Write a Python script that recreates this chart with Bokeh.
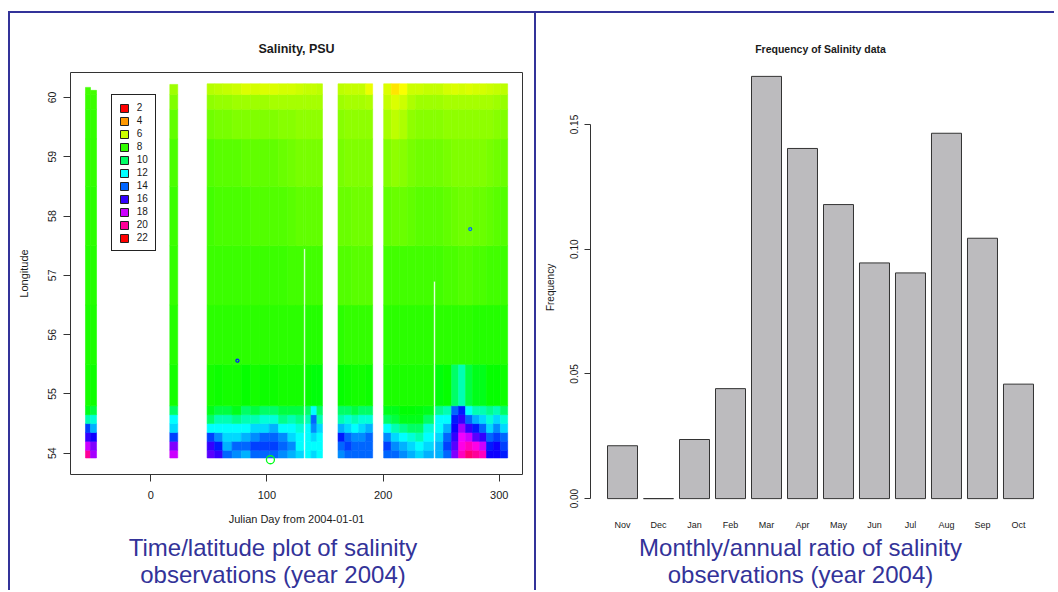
import colorsys
import numpy as np
from bokeh.plotting import figure
from bokeh.models import (ColumnDataSource, LinearColorMapper, Range1d, FixedTicker,
                          Legend, LegendItem, Label, NumeralTickFormatter, FactorRange)
from bokeh.transform import transform
from bokeh.layouts import row, column
from bokeh.embed import file_html
from bokeh.resources import INLINE

# ---------------- data: left panel (salinity, time / latitude) ----------------
lat_edges = [53.92, 54.05, 54.2, 54.35, 54.5, 54.65, 54.8, 55.5, 56.5, 57.5, 58.5, 59.3, 59.8, 60.05, 60.23]

col_day_start = [-56.2, -51.9, 16.4,
                 48.5, 55, 62, 70, 78, 86, 94, 102, 110, 118, 125, 131.7, 133.1, 138, 143,
                 161.2, 167, 173, 179, 185,
                 200.5, 207, 214, 221, 228, 235, 243.5,
                 245, 252, 259, 265, 271, 277, 283, 289, 295, 301]
col_day_end = [-51.9, -46.7, 23.2,
               55, 62, 70, 78, 86, 94, 102, 110, 118, 125, 131.7, 133.1, 138, 143, 147.8,
               167, 173, 179, 185, 191,
               207, 214, 221, 228, 235, 243.5, 245,
               252, 259, 265, 271, 277, 283, 289, 295, 301, 307.2]
col_lat_min = [53.92, 53.92, 53.92,
               53.92, 53.92, 53.92, 53.92, 53.92, 53.92, 53.92, 53.92, 53.92, 53.92, 53.92, 57.45, 53.92, 53.92, 53.92,
               53.92, 53.92, 53.92, 53.92, 53.92,
               53.92, 53.92, 53.92, 53.92, 53.92, 53.92, 56.9,
               53.92, 53.92, 53.92, 53.92, 53.92, 53.92, 53.92, 53.92, 53.92, 53.92]
col_lat_max = [60.17, 60.12, 60.22] + [60.23] * 37

# salinity (PSU) per column, latitude bands from south (first) to north (last)
sal_strip_a = [
    [20, 18, 16, 14.5, 11, 9, 8.4, 8.3, 8.2, 8.1, 8.0, 8.0, 7.9, 7.8],
    [17.5, 17, 15.5, 13, 11.5, 9.5, 8.5, 8.3, 8.2, 8.1, 8.0, 8.0, 7.9, 7.8],
]
sal_strip_b = [
    [18, 17, 14.5, 12.5, 12, 10, 8.4, 8.2, 8.0, 7.9, 7.7, 7.4, 7.0, 6.6],
]
sal_strip_c = [
    [16.5, 16, 14.5, 12, 10, 9, 8.4, 8.1, 7.9, 7.8, 7.6, 7.2, 6.8, 6.3],
    [16, 15, 13.5, 12, 11, 9.5, 8.5, 8.1, 7.9, 7.7, 7.5, 7.1, 6.7, 6.2],
    [14, 13, 12.5, 12, 11, 9.5, 8.4, 8.1, 7.9, 7.7, 7.5, 7.1, 6.7, 6.1],
    [13.5, 14, 12.5, 12, 10.5, 9, 8.4, 8.1, 7.9, 7.7, 7.5, 7.0, 6.6, 6.0],
    [13, 14, 13, 12, 11, 10, 8.6, 8.1, 7.9, 7.7, 7.4, 7.0, 6.6, 5.8],
    [14, 14.5, 13.5, 12.5, 11, 9.5, 8.4, 8.1, 7.9, 7.6, 7.4, 7.0, 6.6, 5.9],
    [14, 14.5, 14, 12.5, 11.5, 10, 8.5, 8.1, 7.9, 7.6, 7.4, 7.0, 6.6, 5.8],
    [14, 14.5, 14, 13, 11.5, 10, 8.5, 8.1, 7.9, 7.6, 7.4, 7.0, 6.5, 5.8],
    [13.5, 14, 13.5, 12, 10.5, 9.5, 8.4, 8.1, 7.9, 7.6, 7.3, 6.9, 6.5, 5.9],
    [13, 13.5, 12.5, 12, 11, 9.5, 8.4, 8.1, 7.8, 7.5, 7.2, 6.9, 6.5, 5.9],
    [12.5, 12, 12, 11.5, 10.5, 9.5, 8.4, 8.1, 7.8, 7.4, 7.1, 6.8, 6.5, 6.0],
    [12, 12, 12, 11.5, 10.5, 9.5, 8.4, 8.1, 7.8, 7.4, 7.1, 6.8, 6.5, 6.1],
    [12, 12, 12, 12, 11, 10, 8.6, 8.2, 7.8, 7.4, 7.1, 6.8, 6.5, 6.1],
    [12.5, 12, 12.5, 13.5, 14, 12, 8.8, 8.2, 7.8, 7.4, 7.1, 6.8, 6.5, 6.1],
    [12, 12, 12, 12.5, 11, 10, 8.8, 8.2, 7.8, 7.4, 7.1, 6.8, 6.5, 6.2],
]
sal_strip_d = [
    [13.5, 14, 15, 13, 11, 10, 8.6, 8.1, 7.6, 7.3, 7.1, 6.9, 6.6, 6.2],
    [14, 14.5, 14, 12.5, 11.5, 10, 8.5, 8.0, 7.6, 7.3, 7.0, 6.8, 6.5, 6.1],
    [14, 14, 13.5, 12, 11, 9.5, 8.4, 8.0, 7.5, 7.2, 7.0, 6.8, 6.5, 6.1],
    [14, 14, 13.5, 12.5, 11.5, 10, 8.4, 8.0, 7.5, 7.2, 7.0, 6.8, 6.5, 6.1],
    [14, 14, 14, 13, 11.5, 10, 8.5, 8.0, 7.5, 7.2, 7.0, 6.8, 6.4, 5.6],
]
sal_strip_e = [
    [14, 14.5, 13.5, 12, 10, 9, 8.3, 8.1, 7.8, 7.4, 7.0, 6.5, 6.1, 5.8],
    [14, 13.5, 12.5, 11, 9.5, 9, 8.3, 8.1, 7.8, 7.3, 6.8, 6.2, 5.8, 5.0],
    [13.5, 13, 12, 10.5, 9, 8.7, 8.3, 8.1, 7.8, 7.3, 6.9, 6.4, 6.0, 5.4],
    [13, 12.5, 11.5, 10, 9, 8.7, 8.3, 8.1, 7.8, 7.4, 7.1, 6.8, 6.4, 6.0],
    [12.5, 12, 11, 10, 9, 8.8, 8.3, 8.1, 7.8, 7.5, 7.2, 6.9, 6.6, 6.0],
    [13, 12.5, 12, 11.5, 10, 9, 8.3, 8.1, 7.8, 7.5, 7.2, 6.9, 6.6, 6.1],
    [12, 12, 12, 11, 10, 9, 8.3, 8.1, 7.8, 7.5, 7.2, 6.9, 6.6, 6.1],
    [13, 13, 12.5, 12, 12, 10.5, 8.8, 8.1, 7.8, 7.5, 7.2, 6.9, 6.6, 6.1],
    [14, 14.5, 14, 13, 12, 11, 8.6, 8.1, 7.7, 7.4, 7.1, 6.8, 6.5, 5.9],
    [17, 16.5, 16, 15.5, 15, 14, 10, 8.1, 7.7, 7.3, 7.0, 6.8, 6.5, 5.8],
    [19.5, 19, 18.5, 17.5, 16, 15, 11, 8.1, 7.6, 7.2, 7.0, 6.8, 6.5, 5.9],
    [20.5, 19.5, 18, 16, 14, 12, 9.5, 8.1, 7.6, 7.2, 7.0, 6.8, 6.5, 5.8],
    [20, 19, 16.5, 15, 13, 11, 9, 8.2, 7.7, 7.3, 7.0, 6.8, 6.5, 5.9],
    [19.5, 18, 16, 14, 12.5, 11, 9, 8.2, 7.7, 7.3, 7.0, 6.8, 6.5, 5.9],
    [15.5, 15, 14, 12.5, 11.5, 10.5, 8.6, 8.2, 7.8, 7.4, 7.1, 6.8, 6.5, 6.0],
    [15.5, 15.5, 14.5, 13.5, 12.5, 11, 8.6, 8.2, 7.8, 7.5, 7.2, 6.9, 6.6, 6.1],
    [15, 14.5, 14, 12.5, 11.5, 10, 8.5, 8.2, 7.9, 7.6, 7.3, 7.0, 6.7, 6.2],
]

# isolated observations
out_day = [103, -18.3, 74.6, 275]
out_lat = [53.89, 58.78, 55.56, 57.78]
out_sal = [9, 19, 15, 14]
out_marker_px = [8, 6, 3, 3]

legend_levels = [2, 4, 6, 8, 10, 12, 14, 16, 18, 20, 22]
x_ticks = [0, 100, 200, 300]
y_ticks = [54, 55, 56, 57, 58, 59, 60]

# ---------------- data: right panel (monthly ratio) ----------------
months = ["Nov", "Dec", "Jan", "Feb", "Mar", "Apr", "May", "Jun", "Jul", "Aug", "Sep", "Oct"]
freq = [0.0212, 0.0, 0.0237, 0.0441, 0.1693, 0.1404, 0.1179, 0.0945, 0.0905, 0.1465, 0.1044, 0.0459]
freq_ticks = [0.0, 0.05, 0.10, 0.15]

captions_left = ["Time/latitude plot of salinity", "observations (year 2004)"]
captions_right = ["Monthly/annual ratio of salinity", "observations (year 2004)"]

# ---------------- styling helpers ----------------
BLUE = "#333399"
INK = "#1a1a1a"
FONT = "Liberation Sans"

pal = []
for i in range(201):
    r, g, b = colorsys.hsv_to_rgb((i / 200.0) % 1.0, 1.0, 1.0)
    pal.append("#%02x%02x%02x" % (round(r * 255), round(g * 255), round(b * 255)))
mapper = LinearColorMapper(palette=pal, low=2, high=22)

sal_all = sal_strip_a + sal_strip_b + sal_strip_c + sal_strip_d + sal_strip_e
cells = dict(left=[], right=[], bottom=[], top=[], sal=[])
for c in range(len(col_day_start)):
    for k in range(len(lat_edges) - 1):
        bot = max(lat_edges[k], col_lat_min[c])
        top = min(lat_edges[k + 1], col_lat_max[c])
        if top > bot:
            cells["left"].append(col_day_start[c])
            cells["right"].append(col_day_end[c])
            cells["bottom"].append(bot)
            cells["top"].append(top)
            cells["sal"].append(sal_all[c][k])

# ---------------- left figure ----------------
pL = figure(width=526, height=519,
            x_range=Range1d(-69.1, 320.0), y_range=Range1d(53.641, 60.421),
            output_backend="svg", toolbar_location=None, frame_align=False,
            min_border_left=60, min_border_right=14, min_border_top=59, min_border_bottom=58,
            styles={"border-left": "2px solid " + BLUE, "border-top": "2px solid " + BLUE})
pL.grid.visible = False
pL.outline_line_color = "#333333"
pL.outline_line_alpha = 1
pL.outline_line_width = 1

pL.title.text = "Salinity, PSU"
pL.title.align = "center"
pL.title.text_font = FONT
pL.title.text_font_style = "bold"
pL.title.text_font_size = "12.5px"
pL.title.text_color = INK
pL.title.standoff = 34

pL.quad(left="left", right="right", bottom="bottom", top="top",
        source=ColumnDataSource(cells),
        fill_color=transform("sal", mapper), line_color=transform("sal", mapper), line_width=0.6)

out_src = ColumnDataSource(dict(day=out_day, lat=out_lat, sal=out_sal, px=out_marker_px))
pL.scatter(x="day", y="lat", source=out_src, size="px", marker="circle",
           fill_color=None, line_color=transform("sal", mapper), line_width=1.3, level="overlay")

leg_src = ColumnDataSource(dict(level=legend_levels, nan=[np.nan] * len(legend_levels)))
leg_r = pL.quad(left="nan", right="nan", bottom="nan", top="nan", source=leg_src,
                fill_color=transform("level", mapper), line_color="#222222", line_width=1)
legend = Legend(items=[LegendItem(label=str(v), renderers=[leg_r], index=i)
                       for i, v in enumerate(legend_levels)],
                location=(40.7, 222.7), orientation="vertical",
                glyph_width=10, glyph_height=10, label_height=10, label_width=10,
                spacing=2, padding=7, margin=0, label_standoff=8,
                label_text_font=FONT, label_text_font_size="10px", label_text_color=INK,
                border_line_color="#222222", border_line_width=1, border_line_alpha=1,
                background_fill_color="white", background_fill_alpha=1)
pL.add_layout(legend)

for ax in (pL.xaxis[0], pL.yaxis[0]):
    ax.axis_line_color = None
    ax.major_tick_in = 0
    ax.major_tick_out = 7
    ax.major_tick_line_color = "#333333"
    ax.minor_tick_line_color = None
    ax.major_label_text_font = FONT
    ax.major_label_text_color = INK
    ax.axis_label_text_font = FONT
    ax.axis_label_text_font_style = "normal"
    ax.axis_label_text_color = INK
    ax.axis_label_text_font_size = "11px"

pL.xaxis.ticker = FixedTicker(ticks=x_ticks)
pL.xaxis.major_label_text_font_size = "11px"
pL.xaxis.major_label_standoff = 9
pL.xaxis.axis_label = "Julian Day from 2004-01-01"
pL.xaxis.axis_label_standoff = 11

pL.yaxis.ticker = FixedTicker(ticks=y_ticks)
pL.yaxis.major_label_text_font_size = "10.5px"
pL.yaxis.major_label_orientation = "vertical"
pL.yaxis.major_label_standoff = 7
pL.yaxis.axis_label = "Longitude"
pL.yaxis.axis_label_standoff = 16

# ---------------- right figure ----------------
ymax = max(freq)
ypad = 0.04 * ymax
pR = figure(width=520, height=519,
            x_range=FactorRange(factors=months, range_padding=0.389, range_padding_units="absolute"),
            y_range=Range1d(-ypad, ymax + ypad),
            output_backend="svg", toolbar_location=None, frame_align=False,
            min_border_left=54, min_border_right=6, min_border_top=46, min_border_bottom=14,
            styles={"border-left": "2px solid " + BLUE, "border-top": "2px solid " + BLUE})
pR.grid.visible = False
pR.outline_line_color = None

pR.title.text = "Frequency of Salinity data"
pR.title.align = "center"
pR.title.text_font = FONT
pR.title.text_font_style = "bold"
pR.title.text_font_size = "10.5px"
pR.title.text_color = INK
pR.title.standoff = 9

pR.vbar(x=months, top=freq, bottom=0, width=0.8333,
        fill_color="#bcbbbe", line_color="#333333", line_width=1)

pR.xaxis.axis_line_color = None
pR.xaxis.major_tick_line_color = None
pR.xaxis.major_tick_out = 0
pR.xaxis.major_tick_in = 0
pR.xaxis.minor_tick_line_color = None
pR.xaxis.major_label_text_font = FONT
pR.xaxis.major_label_text_font_size = "9px"
pR.xaxis.major_label_text_color = INK
pR.xaxis.major_label_standoff = 4

pR.yaxis.ticker = FixedTicker(ticks=freq_ticks)
pR.yaxis.bounds = (freq_ticks[0], freq_ticks[-1])
pR.yaxis.formatter = NumeralTickFormatter(format="0.00")
pR.yaxis.axis_line_color = "#333333"
pR.yaxis.major_tick_in = 0
pR.yaxis.major_tick_out = 6
pR.yaxis.major_tick_line_color = "#333333"
pR.yaxis.minor_tick_line_color = None
pR.yaxis.major_label_orientation = "vertical"
pR.yaxis.major_label_standoff = 6
pR.yaxis.major_label_text_font = FONT
pR.yaxis.major_label_text_font_size = "10px"
pR.yaxis.major_label_text_color = INK
pR.yaxis.axis_label = "Frequency"
pR.yaxis.axis_label_standoff = 12
pR.yaxis.axis_label_text_font = FONT
pR.yaxis.axis_label_text_font_style = "normal"
pR.yaxis.axis_label_text_font_size = "10px"
pR.yaxis.axis_label_text_color = INK


# ---------------- caption strips ----------------
def caption_fig(width, lines, cx, border):
    c = figure(width=width, height=60, x_range=Range1d(0, width), y_range=Range1d(60, 0),
               output_backend="svg", toolbar_location=None, frame_align=False,
               x_axis_location=None, y_axis_location=None,
               min_border_left=0, min_border_right=0, min_border_top=0, min_border_bottom=0,
               styles=border)
    c.grid.visible = False
    c.outline_line_color = None
    for txt, base in zip(lines, [17, 44]):
        c.add_layout(Label(x=cx, y=base, text=txt, text_align="center", text_baseline="alphabetic",
                           text_font=FONT, text_font_size="24px", text_color=BLUE))
    return c


capL = caption_fig(526, captions_left, 262.5, {"border-left": "2px solid " + BLUE})
capR = caption_fig(520, captions_right, 264, {"border-left": "2px solid " + BLUE})

layout = row(column(pL, capL), column(pR, capR), margin=(11, 0, 0, 8))
open("out.html", "w").write(file_html(layout, INLINE))
